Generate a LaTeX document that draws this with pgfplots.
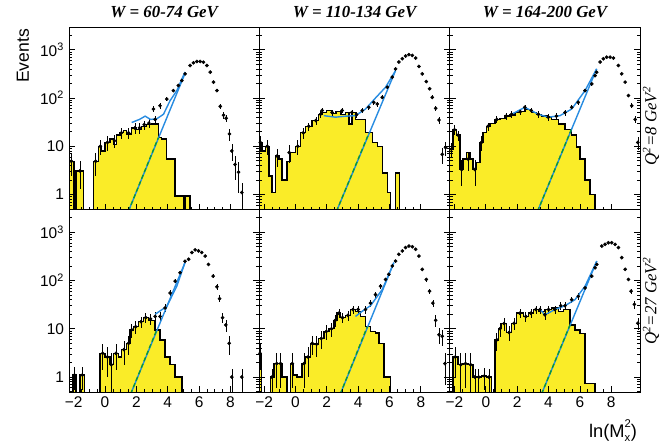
\documentclass[border=0pt]{standalone}
\usepackage{fontspec}
\setmainfont{Liberation Serif}
\setsansfont{Liberation Sans}
\usepackage{pgfplots}
\usepackage{pgfplotstable}
\pgfplotsset{compat=1.18}
\definecolor{histyel}{RGB}{250,236,40}
\definecolor{fitblue}{RGB}{40,140,225}
\definecolor{fitgreen}{RGB}{10,150,60}

% histograms: left bin edge, content (0.1 = empty bin, below the axis)
\pgfplotstableread{
x y
-2.35 0.1
-2.35 4.9
-1.98 0.1
-1.85 3.1
-1.38 0.1
-0.75 4.9
-0.43 10
-0.21 8
0 12
0.32 14
0.53 11
0.75 17
0.96 19
1.17 21
1.38 18
1.7 24
2.02 22
2.34 26
2.66 28
2.98 29
3.41 15
3.62 14
3.94 5.4
4.47 0.93
5.0 0.1
5.11 0.93
5.43 0.1
}\histTL
\pgfplotstableread{
x y
-2.35 0.1
-2.35 12
-2.13 8
-1.92 10
-1.7 2.4
-1.49 1.1
-1.28 6.3
-1.06 5.4
-0.85 2
-0.53 4.9
-0.32 7.4
0 10
0.32 19
0.64 26
1.06 34
1.49 46
1.7 50
2.0 55
2.3 48
2.6 52
2.9 46
3.2 50
3.41 29
3.62 50
3.83 36
4.47 19
4.9 12
5.22 10
5.54 2.8
5.86 1.1
6.07 0.1
6.39 2.8
6.64 0.1
}\histTM
\pgfplotstableread{
x y
-2.35 0.1
-2.35 8.7
-2.09 22
-1.88 17
-1.66 3.3
-1.45 5.4
-1.24 7.4
-1.02 5.4
-0.81 3.3
-0.6 4.6
-0.38 12
-0.17 19
0.04 26
0.26 30
0.58 36
0.9 38
1.21 42
1.55 44
1.85 50
2.2 52
2.49 58
2.92 50
3.25 46
3.56 42
3.9 40
4.2 36
4.62 29
5.05 22
5.48 17
5.8 9.6
6.01 5.4
6.33 2
6.65 1.0
6.97 0.1
}\histTR
\pgfplotstableread{
x y
-2.05 0.1
-2.05 1.1
-1.85 0.1
-1.6 1.1
-1.3 0.1
-0.32 3.1
0 2.6
0.32 1.8
0.53 3.1
0.85 2.6
1.06 3.7
1.38 5
1.6 9.5
1.81 11
2.13 14
2.45 17
2.77 15
3.19 9.5
3.51 5.9
3.83 2.6
4.15 1.8
4.47 1.0
4.9 0.1
}\histBL
\pgfplotstableread{
x y
-2.35 0.1
-2.35 3.1
-2.17 0.1
-1.6 1.0
-1.38 1.9
-1.06 1.9
-0.85 1.0
-0.53 0.1
-0.32 1.9
-0.11 1.1
0.11 1.0
0.43 1.9
0.64 2.6
0.96 5
1.17 4.8
1.49 6.3
1.81 8.8
2.13 10
2.45 15
2.66 21
2.87 17
3.19 19
3.51 25
3.83 23
4.15 18
4.47 11
4.79 8.8
5.11 8.2
5.32 5
5.64 1.0
6.07 0.1
}\histBM
\pgfplotstableread{
x y
-2.1 0.1
-2.1 2.6
-1.77 1.8
-1.45 1.9
-1.13 1.8
-0.81 1.0
-0.6 1.0
-0.28 1.05
0.04 1.0
0.36 0.1
0.58 5.9
0.79 10
1.0 12.8
1.32 8.4
1.64 13
1.96 21
2.39 18
2.71 21
3.03 25
3.35 23
3.77 25
4.2 27
4.62 23
4.94 25
5.37 12
5.69 9.5
6.01 8
6.33 0.74
6.97 0.1
}\histBR

\pgfplotsset{
 every axis/.append style={width=4.76cm,height=4.5625cm,scale only axis,
   ymode=log,xmin=-2.3,xmax=9.85,ymin=0.49,ymax=2950,axis on top,
   xtick={-2,0,2,4,6,8},minor x tick num=3,xtick pos=left,
   ytick={1,10,100,1000},
   minor ytick={0.5,0.6,0.7,0.8,0.9,2,3,4,5,6,7,8,9,20,30,40,50,60,70,80,90,200,300,400,500,600,700,800,900,2000},
   tick align=inside,major tick length=0.15cm,minor tick length=0.075cm,
   every tick/.append style={black,line width=0.5pt},axis line style={line width=0.6pt},
   tick label style={font=\sffamily\fontsize{11}{13}\selectfont}},
 myhist/.style={const plot,fill=histyel,draw=black,line width=1pt},
 mypts/.style={only marks,mark=*,mark size=1.1pt,black,
   error bars/y dir=both,error bars/y explicit,error bars/error mark=none,
   error bars/error bar style={line width=0.45pt,black}},
 myfit/.style={fitblue,line width=1pt},
 myfitg/.style={fitgreen,line width=1pt,dash pattern=on 3pt off 2pt}
}

\begin{document}
\begin{tikzpicture}
\useasboundingbox (0,0) rectangle (16.625,11.075);

% ---- Q2 = 8, W = 60-74
\begin{axis}[at={(1.725cm,5.8375cm)},anchor=south west,xticklabels={},yticklabels={1,10,10\textsuperscript{2},10\textsuperscript{3}}]
\addplot[myhist] table {\histTL};
\addplot[mypts] coordinates {(-2.15,4.9) +- (0,2.5) (-1.6,3.1) +- (0,1.8) (-0.6,4.9) +- (0,2.5)
 (-0.3,10) +- (0,3.5) (0.15,12) +- (0,4) (0.6,13) +- (0,4) (1.05,19) +- (0,5) (1.5,19) +- (0,5)
 (1.9,24) +- (0,6) (2.2,24) +- (0,6) (2.5,28) +- (0,6) (2.8,30) +- (0,6) (3.2,36) +- (0,7)
 (3.09,59) +- (0,8) (3.51,69) +- (0,9) (3.94,95) +- (0,10) (4.36,142) +- (0,12) (4.68,181) +- (0,14)
 (4.9,229) +- (0,15) (5.11,316) +- (0,18) (5.43,470) +- (0,0) (5.64,535) +- (0,0) (5.86,570) +- (0,0)
 (6.07,570) +- (0,0) (6.28,550) +- (0,0) (6.5,470) +- (0,0) (6.71,343) +- (0,0) (6.92,213) +- (0,0)
 (7.14,142) +- (0,12) (7.35,67) +- (0,8) (7.56,44) +- (0,7) (7.73,38) +- (0,6) (7.94,18) +- (0,5)
 (8.09,8) +- (0,3) (8.3,4.2) +- (0,2.2) (8.52,2.9) +- (0,1.8) (8.73,1.1) +- (0,0.6)};
\addplot[myfit] coordinates {(1.7,31) (2.2,36) (2.56,42) (2.9,36) (3.3,37) (3.73,46) (4.15,88) (4.58,142) (5.1,345)};
\addplot[myfit] coordinates {(1.49,0.45) (5.1,320)};
\addplot[myfitg] coordinates {(1.49,0.45) (3.4,15)};
\end{axis}

% ---- Q2 = 8, W = 110-134
\begin{axis}[at={(6.485cm,5.8375cm)},anchor=south west,xticklabels={},yticklabels={}]
\addplot[myhist] table {\histTM};
\addplot[mypts] coordinates {(-2.24,12) +- (0,4) (-1.8,10) +- (0,3.5) (-1.17,6.3) +- (0,2.5) (-0.4,7.4) +- (0,3)
 (0.15,10) +- (0,3.5) (0.5,19) +- (0,5) (0.85,26) +- (0,5) (1.3,34) +- (0,6) (1.6,46) +- (0,7)
 (1.7,55) +- (0,7) (2.34,50) +- (0,7) (2.98,55) +- (0,7) (3.6,50) +- (0,7) (3.9,45) +- (0,7)
 (4.26,55) +- (0,7) (4.68,64) +- (0,8) (5.0,81) +- (0,9) (5.22,75) +- (0,9) (5.54,103) +- (0,10)
 (5.86,167) +- (0,13) (6.18,270) +- (0,0) (6.39,400) +- (0,0) (6.6,555) +- (0,0) (6.82,650) +- (0,0)
 (7.03,740) +- (0,0) (7.24,790) +- (0,0) (7.46,760) +- (0,0) (7.67,670) +- (0,0) (7.88,450) +- (0,0)
 (8.09,316) +- (0,0) (8.35,219) +- (0,0) (8.56,155) +- (0,0) (8.73,103) +- (0,10) (8.95,61) +- (0,8)
 (9.16,35) +- (0,6) (9.37,6.8) +- (0,2.6) (9.58,9.4) +- (0,3)};
\addplot[myfit] coordinates {(1.81,43) (2.56,40) (3.2,42) (3.83,43) (4.47,59) (5.11,100) (5.75,167) (6.39,370)};
\addplot[myfit] coordinates {(2.62,0.45) (6.39,370)};
\addplot[myfitg] coordinates {(2.62,0.45) (4.7,19)};
\end{axis}

% ---- Q2 = 8, W = 164-200
\begin{axis}[at={(11.245cm,5.8375cm)},anchor=south west,xticklabels={},yticklabels={}]
\addplot[myhist] table {\histTR};
\addplot[mypts] coordinates {(-2.2,8.7) +- (0,3) (-2.0,22) +- (0,5) (-1.77,17) +- (0,4) (-1.55,3.3) +- (0,1.8)
 (-1.13,5.4) +- (0,2.3) (-0.7,3.3) +- (0,1.8) (-0.28,12) +- (0,4) (0.15,26) +- (0,5) (0.7,36) +- (0,6)
 (1.3,42) +- (0,7) (1.64,46) +- (0,7) (2.2,52) +- (0,7) (2.49,64) +- (0,8) (2.9,55) +- (0,7)
 (3.35,46) +- (0,7) (3.99,40) +- (0,6) (4.5,42) +- (0,7) (5.05,50) +- (0,7) (5.48,64) +- (0,8)
 (5.9,81) +- (0,9) (6.33,142) +- (0,12) (6.76,195) +- (0,14) (6.97,290) +- (0,0) (7.07,340) +- (0,0)
 (7.29,555) +- (0,0) (7.5,650) +- (0,0) (7.71,700) +- (0,0) (7.93,700) +- (0,0) (8.14,670) +- (0,0)
 (8.46,470) +- (0,0) (8.67,316) +- (0,0) (8.89,213) +- (0,0) (9.1,112) +- (0,0) (9.31,69) +- (0,8)
 (9.53,36) +- (0,6) (9.7,12) +- (0,3.5)};
\addplot[myfit] coordinates {(1.64,46) (2.49,64) (3.35,46) (3.99,40) (4.73,43) (5.48,59) (6.33,142) (7.07,400)};
\addplot[myfit] coordinates {(3.3,0.45) (7.07,400)};
\addplot[myfitg] coordinates {(3.3,0.45) (5.45,22)};
\end{axis}

% ---- Q2 = 27, W = 60-74
\begin{axis}[at={(1.725cm,1.275cm)},anchor=south west,xticklabels={−2,0,2,4,6,8},yticklabels={1,10,10\textsuperscript{2},10\textsuperscript{3}}]
\addplot[myhist] table {\histBL};
\addplot[mypts] coordinates {(-1.95,1.1) +- (0,0.55) (-1.45,1.1) +- (0,0.55) (-0.15,3.1) +- (0,1.7)
 (0.15,2.6) +- (0,1.6) (0.4,1.8) +- (0,1.3) (0.7,3.1) +- (0,1.7) (1.2,3.7) +- (0,1.9) (1.5,5) +- (0,2.2)
 (1.7,9.5) +- (0,3) (1.95,11) +- (0,3.3) (2.3,14) +- (0,3.7) (2.6,17) +- (0,4) (2.9,16) +- (0,4)
 (3.2,18) +- (0,4) (3.51,18) +- (0,4) (3.83,27) +- (0,5) (4.15,55) +- (0,7) (4.47,97) +- (0,10)
 (4.79,145) +- (0,12) (5.1,250) +- (0,0) (5.33,275) +- (0,0) (5.54,380) +- (0,0) (5.75,430) +- (0,0)
 (5.96,410) +- (0,0) (6.17,380) +- (0,0) (6.39,320) +- (0,0) (6.6,215) +- (0,0) (6.9,123) +- (0,11)
 (7.14,74) +- (0,9) (7.31,42) +- (0,7) (7.5,17) +- (0,4) (7.71,12) +- (0,3.5) (7.92,5) +- (0,2.2)
 (8.09,1.0) +- (0,0.5) (8.73,1.0) +- (0,0.5)};
\addplot[myfit] coordinates {(3.2,20) (3.94,29) (4.58,76) (5.1,234)};
\addplot[myfit] coordinates {(1.64,0.45) (5.1,234)};
\addplot[myfitg] coordinates {(1.64,0.45) (3.3,9.5)};
\end{axis}

% ---- Q2 = 27, W = 110-134
\begin{axis}[at={(6.485cm,1.275cm)},anchor=south west,xticklabels={−2,0,2,4,6,8},yticklabels={}]
\addplot[myhist] table {\histBM};
\addplot[mypts] coordinates {(-2.26,3.1) +- (0,1.7) (-1.5,1.0) +- (0,0.5) (-1.2,1.9) +- (0,1.3) (-0.95,1.9) +- (0,1.3)
 (-0.2,1.9) +- (0,1.3) (0.55,1.9) +- (0,1.3) (0.8,2.6) +- (0,1.6) (1.07,5) +- (0,2.2) (1.35,4.8) +- (0,2.2)
 (1.65,6.3) +- (0,2.5) (1.97,8.8) +- (0,3) (2.3,10) +- (0,3.2) (2.55,15) +- (0,4) (2.77,21) +- (0,4.5)
 (3.0,17) +- (0,4) (3.35,19) +- (0,4.5) (3.67,25) +- (0,5) (4.0,25) +- (0,5) (4.47,25) +- (0,5)
 (4.79,34) +- (0,6) (5.11,51) +- (0,7) (5.43,76) +- (0,9) (5.75,105) +- (0,10) (5.96,134) +- (0,12)
 (6.18,200) +- (0,0) (6.39,252) +- (0,0) (6.6,348) +- (0,0) (6.82,408) +- (0,0) (7.03,480) +- (0,0)
 (7.24,516) +- (0,0) (7.46,500) +- (0,0) (7.67,443) +- (0,0) (7.88,320) +- (0,0) (8.09,170) +- (0,0)
 (8.35,105) +- (0,10) (8.56,60) +- (0,8) (8.77,34) +- (0,6) (8.95,15) +- (0,4) (9.16,7.5) +- (0,2.7)
 (9.37,7) +- (0,2.6) (9.54,1.9) +- (0,1.2)};
\addplot[myfit] coordinates {(3.83,18) (4.26,23) (4.79,30) (5.54,65) (6.28,234)};
\addplot[myfit] coordinates {(2.87,0.45) (6.28,234)};
\addplot[myfitg] coordinates {(2.87,0.45) (4.58,11)};
\end{axis}

% ---- Q2 = 27, W = 164-200
\begin{axis}[at={(11.245cm,1.275cm)},anchor=south west,xticklabels={−2,0,2,4,6,8},yticklabels={}]
\addplot[myhist] table {\histBR};
\addplot[mypts] coordinates {(-1.95,2.6) +- (0,1.6) (-1.6,1.8) +- (0,1.3) (-1.3,1.9) +- (0,1.3) (-0.97,1.8) +- (0,1.3)
 (-0.7,1.0) +- (0,0.5) (-0.45,1.0) +- (0,0.5) (-0.1,1.05) +- (0,0.5) (0.2,1.0) +- (0,0.5) (0.7,5.9) +- (0,2.4)
 (0.9,10) +- (0,3.2) (1.16,12.8) +- (0,3.6) (1.48,8.4) +- (0,2.9) (1.8,13) +- (0,3.6) (2.17,21) +- (0,4.5)
 (2.55,18) +- (0,4.2) (2.87,21) +- (0,4.5) (3.19,25) +- (0,5) (3.45,25) +- (0,5) (3.77,19.5) +- (0,4.4)
 (4.0,25) +- (0,5) (4.41,25) +- (0,5) (4.78,30) +- (0,5.5) (5.05,30) +- (0,5.5) (5.48,40) +- (0,6)
 (5.9,47) +- (0,7) (6.33,70) +- (0,8) (6.76,123) +- (0,11) (6.97,183) +- (0,0) (7.08,215) +- (0,0)
 (7.4,515) +- (0,0) (7.61,560) +- (0,0) (7.82,605) +- (0,0) (8.03,605) +- (0,0) (8.25,560) +- (0,0)
 (8.46,480) +- (0,0) (8.67,297) +- (0,0) (8.89,170) +- (0,0) (9.1,105) +- (0,0) (9.27,60) +- (0,8)
 (9.48,32) +- (0,6) (9.7,13) +- (0,3.6)};
\addplot[myfit] coordinates {(3.45,25) (3.77,19.5) (4.41,25) (5.05,30) (5.69,40) (6.33,76) (7.08,252)};
\addplot[myfit] coordinates {(3.56,0.45) (7.08,252)};
\addplot[myfitg] coordinates {(3.56,0.45) (5.37,12)};
\end{axis}

% titles and labels
\node[font=\bfseries\itshape\fontsize{12}{14}\selectfont] at (4.105,10.775) {W = 60-74 GeV};
\node[font=\bfseries\itshape\fontsize{12}{14}\selectfont] at (8.865,10.775) {W = 110-134 GeV};
\node[font=\bfseries\itshape\fontsize{12}{14}\selectfont] at (13.625,10.775) {W = 164-200 GeV};
\node[rotate=90,font=\sffamily\fontsize{12.5}{14}\selectfont] at (0.575,9.675) {Events};
\node[rotate=90,font=\itshape\fontsize{12}{14}\selectfont] at (16.275,7.925) {Q\textsuperscript{2}=8 GeV\textsuperscript{2}};
\node[rotate=90,font=\itshape\fontsize{12}{14}\selectfont] at (16.275,3.55) {Q\textsuperscript{2}=27 GeV\textsuperscript{2}};
\node[font=\sffamily\fontsize{13}{15}\selectfont] at (15.325,0.3) {ln(M\makebox[0pt][l]{\raisebox{-0.5ex}{\fontsize{8}{8}\selectfont x}}\raisebox{0.95ex}{\fontsize{8}{8}\selectfont 2})};
\end{tikzpicture}
\end{document}
